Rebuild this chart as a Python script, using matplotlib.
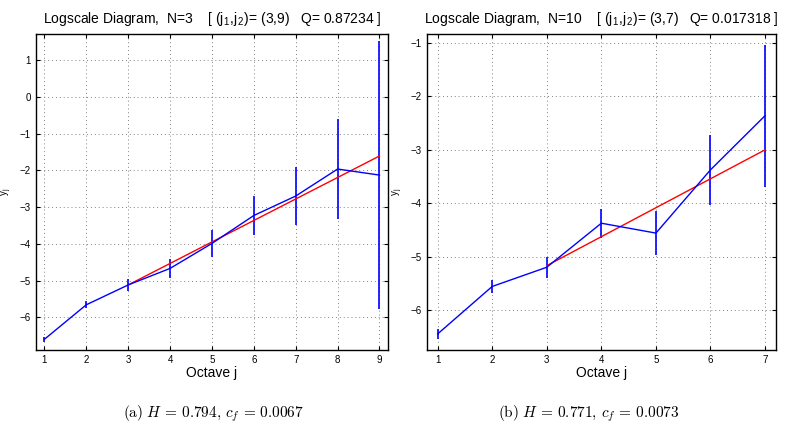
import matplotlib
matplotlib.use("Agg")
import matplotlib.pyplot as plt

plt.rcParams["font.family"] = ["Liberation Sans", "DejaVu Sans"]
plt.rcParams["mathtext.fontset"] = "cm"

# panel (a): N=3
octaves_a = [1, 2, 3, 4, 5, 6, 7, 8, 9]
yj_a = [-6.60, -5.66, -5.12, -4.67, -3.99, -3.23, -2.70, -1.965, -2.13]
err_a = [0.07, 0.10, 0.17, 0.25, 0.36, 0.53, 0.80, 1.35, 3.64]
fit_j_a = [3, 9]
fit_y_a = [-5.12, -1.61]

# panel (b): N=10
octaves_b = [1, 2, 3, 4, 5, 6, 7]
yj_b = [-6.45, -5.56, -5.20, -4.375, -4.56, -3.375, -2.36]
err_b = [0.097, 0.125, 0.20, 0.27, 0.415, 0.65, 1.33]
fit_j_b = [3, 7]
fit_y_b = [-5.17, -3.0]

titles = [r"Logscale Diagram,  N=3    [ (j$_\mathregular{1}$,j$_\mathregular{2}$)= (3,9)   Q= 0.87234 ]",
          r"Logscale Diagram,  N=10    [ (j$_\mathregular{1}$,j$_\mathregular{2}$)= (3,7)   Q= 0.017318 ]"]
captions = [r"$\mathrm{(a)}\ H\,=\,0.794,\,c_f\,=\,0.0067$",
            r"$\mathrm{(b)}\ H\,=\,0.771,\,c_f\,=\,0.0073$"]

fig = plt.figure(figsize=(7.89, 4.33), dpi=100)
ax1 = fig.add_axes([0.0456, 0.1917, 0.446, 0.7298])
ax2 = fig.add_axes([0.5408, 0.1917, 0.4427, 0.7298])

panels = [
    (ax1, octaves_a, yj_a, err_a, fit_j_a, fit_y_a, (0.8, 9.2), (-6.89, 1.71), range(-6, 2)),
    (ax2, octaves_b, yj_b, err_b, fit_j_b, fit_y_b, (0.8, 7.2), (-6.75, -0.83), range(-6, 0)),
]

for i, (ax, xs, ys, es, fj, fy, xl, yl, yt) in enumerate(panels):
    ax.errorbar(xs, ys, yerr=es, color="blue", lw=1, elinewidth=1.2, capsize=0)
    ax.plot(fj, fy, color="red", lw=1)
    ax.set_xlim(*xl)
    ax.set_ylim(*yl)
    ax.set_xticks(xs)
    ax.set_yticks(list(yt))
    ax.grid(True, linestyle=(0, (1, 3)), color="gray", lw=0.7)
    ax.tick_params(direction="in", top=True, right=True, labelsize=7, length=3)
    for s in ax.spines.values():
        s.set_linewidth(1)
    ax.set_title(titles[i], fontsize=10, pad=8)
    ax.set_xlabel("Octave j", fontsize=10, labelpad=1)
    ax.set_ylabel(r"y$_\mathregular{j}$", fontsize=7, labelpad=4)
    fig.text(0.27 + i * 0.476, 0.045, captions[i], fontsize=11, ha="center", va="center")

fig.savefig("out.png", dpi=100)
